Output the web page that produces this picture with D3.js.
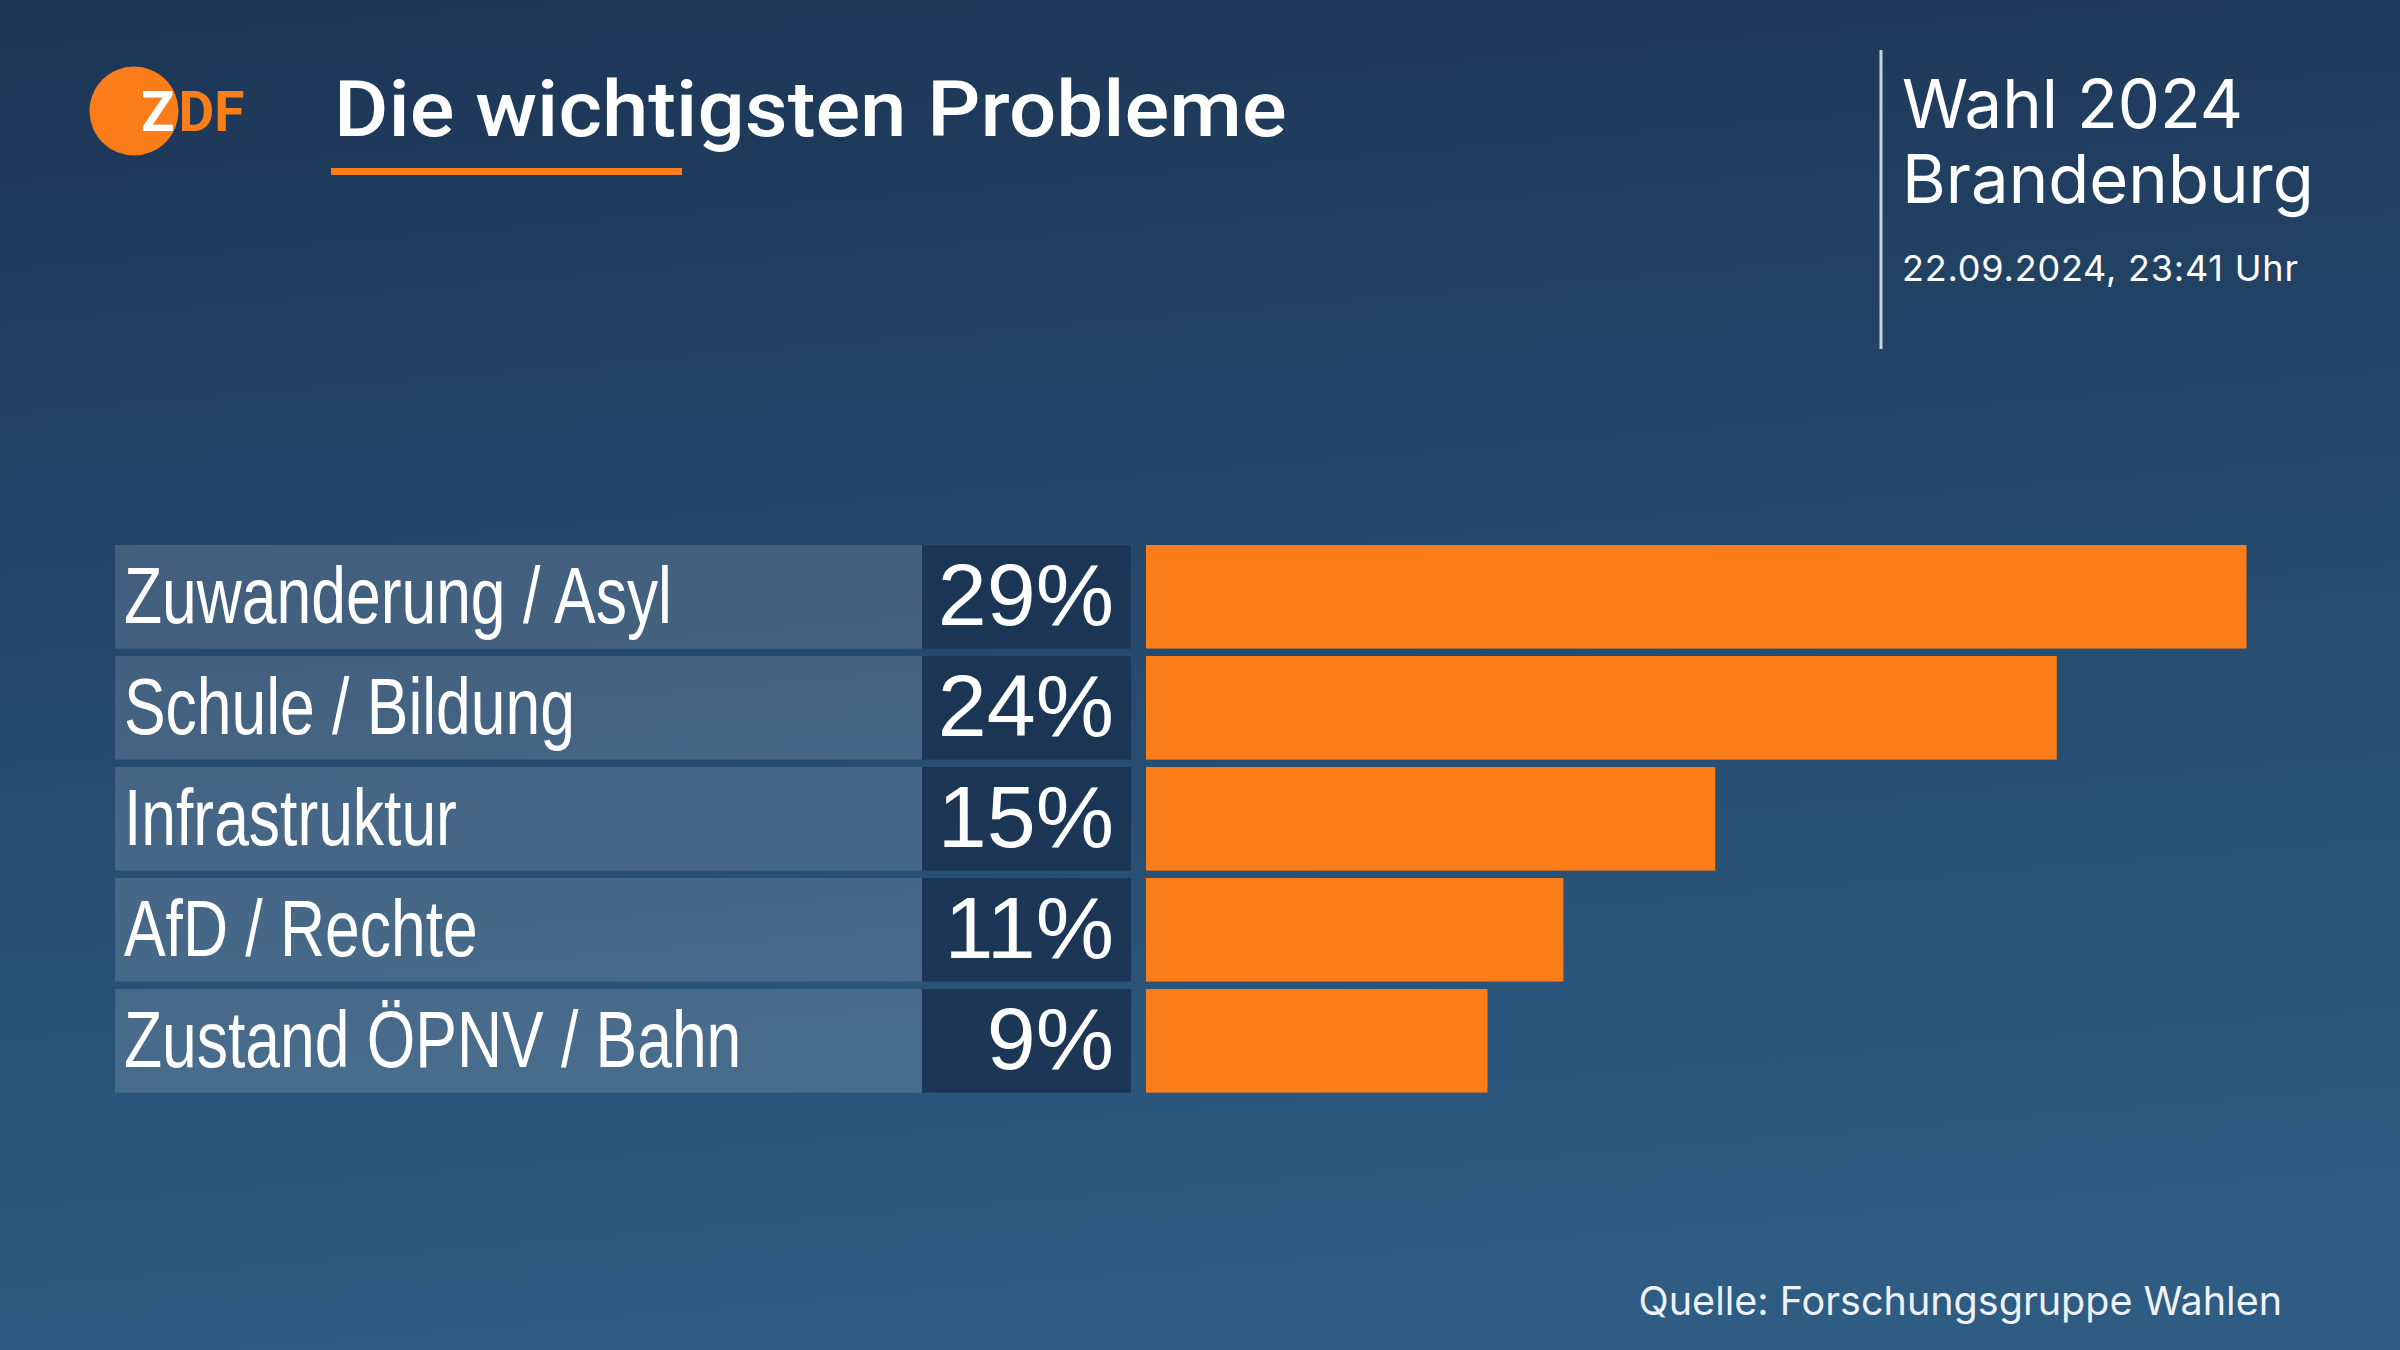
<!DOCTYPE html>
<html>
<head>
<meta charset="utf-8">
<script src="https://cdn.jsdelivr.net/npm/d3@7"></script>
<style>
  html, body { margin: 0; padding: 0; background: #1f3b5b; }
  svg { display: block; }
</style>
</head>
<body>
<div id="chart"></div>
<script>
// Data
const categories = ["Zuwanderung / Asyl", "Schule / Bildung", "Infrastruktur", "AfD / Rechte", "Zustand ÖPNV / Bahn"];
const values = [29, 24, 15, 11, 9];
const valueLabels = ["29%", "24%", "15%", "11%", "9%"];

const title = "Die wichtigsten Probleme";
const headerLines = ["Wahl 2024", "Brandenburg"];
const dateLine = "22.09.2024, 23:41 Uhr";
const sourceLine = "Quelle: Forschungsgruppe Wahlen";

const W = 2400, H = 1350;
const orange = "#fa7d19";
const font = "Roboto, 'Noto Sans', sans-serif";
const headFont = "Inter, Roboto, sans-serif";
const rowFont = "'Liberation Sans', Arial, sans-serif";

const svg = d3.select("#chart")
    .append("svg")
    .attr("width", W)
    .attr("height", H);

// Background gradient
const defs = svg.append("defs");
const grad = defs.append("linearGradient")
    .attr("id", "bg")
    .attr("x1", "0%").attr("y1", "0%")
    .attr("x2", "15%").attr("y2", "100%");
grad.append("stop").attr("offset", "0%").attr("stop-color", "#1c3555");
grad.append("stop").attr("offset", "100%").attr("stop-color", "#2e5c82");

svg.append("rect")
    .attr("width", W)
    .attr("height", H)
    .attr("fill", "url(#bg)");

// Logo
svg.append("circle")
    .attr("cx", 134)
    .attr("cy", 111)
    .attr("r", 44.5)
    .attr("fill", orange);

const logo = svg.append("text")
    .attr("x", 141)
    .attr("y", 131)
    .attr("font-family", font)
    .attr("font-weight", 700)
    .attr("font-size", 55);
logo.append("tspan").attr("fill", "#fff").text("Z");
logo.append("tspan").attr("fill", orange).attr("dx", 4).text("DF");

// Title
svg.append("text")
    .attr("transform", "translate(334,136) scale(1.07,1)")
    .attr("font-family", font)
    .attr("font-weight", 500)
    .attr("font-size", 78)
    .attr("fill", "#fff")
    .text(title);

svg.append("rect")
    .attr("x", 331)
    .attr("y", 168)
    .attr("width", 351)
    .attr("height", 7)
    .attr("fill", orange);

// Right header
svg.append("line")
    .attr("x1", 1881).attr("x2", 1881)
    .attr("y1", 50).attr("y2", 349)
    .attr("stroke", "#c9d3de")
    .attr("stroke-width", 3);

svg.selectAll(".head")
    .data(headerLines)
    .enter()
    .append("text")
    .attr("class", "head")
    .attr("x", 1902)
    .attr("y", (d, i) => 128 + i * 75)
    .attr("font-family", headFont)
    .attr("font-size", 67)
    .attr("fill", "#fff")
    .text(d => d);

svg.append("text")
    .attr("x", 1902)
    .attr("y", 281)
    .attr("font-family", headFont)
    .attr("font-size", 36)
    .attr("letter-spacing", 0.8)
    .attr("fill", "#fff")
    .text(dateLine);

// Scales
const y = d3.scaleBand()
    .domain(categories)
    .range([545, 1092.6])
    .paddingInner(0.0667);

const x = d3.scaleLinear()
    .domain([0, d3.max(values)])
    .range([1146, 2246.5]);

const rows = svg.selectAll(".row")
    .data(categories)
    .enter()
    .append("g")
    .attr("class", "row")
    .attr("transform", d => `translate(0,${y(d)})`);

// Label boxes
rows.append("rect")
    .attr("x", 115)
    .attr("width", 807)
    .attr("height", y.bandwidth())
    .attr("fill", "#ffffff")
    .attr("fill-opacity", 0.14);

// Value boxes
rows.append("rect")
    .attr("x", 922)
    .attr("width", 209)
    .attr("height", y.bandwidth())
    .attr("fill", "#1b3352")
    .attr("fill-opacity", 0.9);

// Bars
rows.append("rect")
    .attr("x", x(0))
    .attr("width", (d, i) => x(values[i]) - x(0))
    .attr("height", y.bandwidth())
    .attr("fill", orange);

// Category labels (condensed)
const labelStretch = 0.78;
rows.append("text")
    .attr("transform", `translate(124,78) scale(${labelStretch},1)`)
    .attr("font-family", rowFont)
    .attr("font-size", 80)
    .attr("fill", "#fff")
    .text(d => d);

// Value labels
rows.append("text")
    .attr("x", 1114)
    .attr("y", 80)
    .attr("text-anchor", "end")
    .attr("font-family", rowFont)
    .attr("font-size", 88)
    .attr("fill", "#fff")
    .text((d, i) => valueLabels[i]);

// Source
svg.append("text")
    .attr("x", 2282)
    .attr("y", 1315)
    .attr("text-anchor", "end")
    .attr("font-family", headFont)
    .attr("font-size", 39.5)
    .attr("fill", "#eef2f6")
    .text(sourceLine);
</script>
</body>
</html>
